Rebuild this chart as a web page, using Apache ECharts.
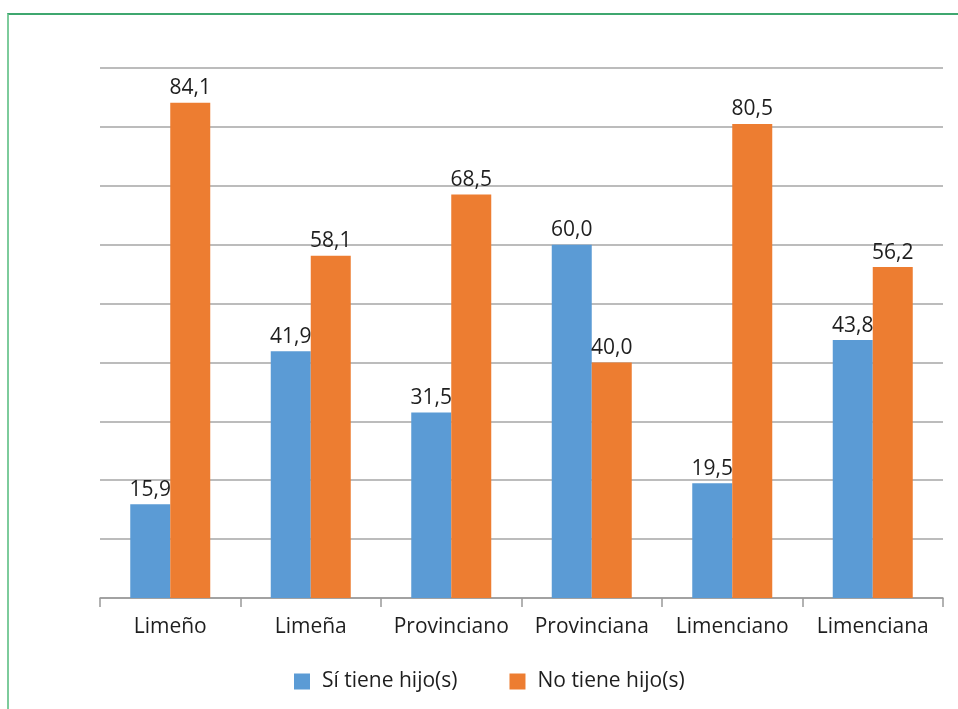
<!DOCTYPE html>
<html>
<head>
<meta charset="utf-8">
<script src="https://cdn.jsdelivr.net/npm/echarts@6/dist/echarts.min.js"></script>
<style>
  html, body { margin: 0; padding: 0; background: #fff; }
  #wrap { position: relative; width: 958px; height: 709px; }
  #frame { position: absolute; left: 7px; top: 13px; right: 0; bottom: 0;
           border-top: 2px solid #3fa76f; border-left: 2px solid #7dcb9c; }
  #main { position: absolute; left: 0; top: 0; width: 958px; height: 709px; }
</style>
</head>
<body>
<div id="wrap">
  <div id="frame"></div>
  <div id="main"></div>
</div>
<script>
// categories and series
var categories = ['Limeño', 'Limeña', 'Provinciano', 'Provinciana', 'Limenciano', 'Limenciana'];
var siTiene = [15.9, 41.9, 31.5, 60.0, 19.5, 43.8];
var noTiene = [84.1, 58.1, 68.5, 40.0, 80.5, 56.2];
var seriesNames = ['Sí tiene hijo(s)', 'No tiene hijo(s)'];

var font = 'Open Sans';

function fmt(p) {
  return p.value.toFixed(1).replace('.', ',');
}

var labelStyle = {
  show: true,
  position: 'top',
  distance: 4,
  fontFamily: font,
  fontSize: 21,
  color: '#1e1e1e',
  formatter: fmt
};

var myChart = echarts.init(document.getElementById('main'));
var option = {
  animation: false,
  textStyle: { fontFamily: font },
  grid: { left: 100, right: 15, top: 68, bottom: 111 },
  legend: {
    top: 666,
    left: 289,
    itemWidth: 16,
    itemHeight: 16,
    itemGap: 52,
    icon: 'rect',
    textStyle: { fontFamily: font, fontSize: 21, color: '#1e1e1e', padding: [0, 0, 0, 7] },
    data: seriesNames
  },
  xAxis: {
    type: 'category',
    data: categories,
    boundaryGap: true,
    axisLine: { lineStyle: { color: '#999', width: 1.5 } },
    axisTick: { show: true, interval: 0, length: 9, lineStyle: { color: '#999', width: 1.5 } },
    axisLabel: { interval: 0, fontFamily: font, fontSize: 21, color: '#1e1e1e', margin: 19 }
  },
  yAxis: {
    type: 'value',
    min: 0,
    max: 90,
    interval: 10,
    axisLine: { show: false },
    axisTick: { show: false },
    axisLabel: { show: false },
    splitLine: { lineStyle: { color: '#a6a6a6', width: 1.5 } }
  },
  series: [
    {
      name: seriesNames[0],
      type: 'bar',
      data: siTiene,
      barWidth: 40,
      barGap: '0%',
      itemStyle: { color: '#5b9bd5' },
      label: labelStyle
    },
    {
      name: seriesNames[1],
      type: 'bar',
      data: noTiene,
      barWidth: 40,
      barGap: '0%',
      itemStyle: { color: '#ed7d31' },
      label: labelStyle
    }
  ]
};
myChart.setOption(option);
</script>
</body>
</html>
